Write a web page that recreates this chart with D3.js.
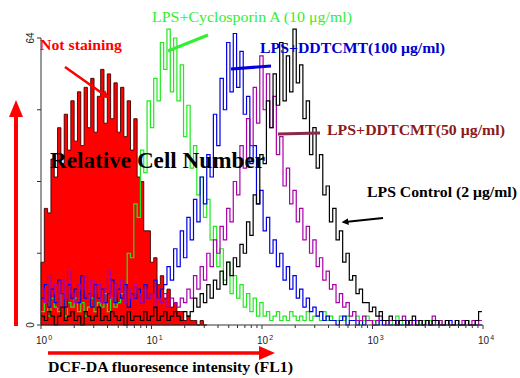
<!DOCTYPE html>
<html>
<head>
<meta charset="utf-8">
<script src="https://cdn.jsdelivr.net/npm/d3@7"></script>
<style>
  body { margin: 0; background: #fff; }
  svg { display: block; }
</style>
</head>
<body>
<div id="chart"></div>
<script>
// Each histogram channel is 0.03 decades wide, starting at 10^0
const binDecades = 0.03;

// Counts per channel
const notStaining = [14, 26, 25, 37, 33, 44, 36, 47, 39, 50, 41, 52, 40, 53, 44, 55, 43, 51, 57, 45,
  56, 46, 54, 43, 53, 42, 50, 39, 46, 33, 32, 21, 21, 14, 15, 9, 11, 6, 8, 4,
  5, 3, 3, 1, 2, 1, 1, 0, 1, 0];

const cyclosporin = [3, 5, 2, 6, 4, 3, 7, 2, 5, 4, 6, 3, 5, 2, 4, 6, 3, 5, 4, 7,
  3, 6, 4, 5, 7, 9, 16, 15, 27, 24, 39, 34, 50, 44, 55, 50, 63, 57, 66, 52,
  64, 50, 58, 42, 49, 35, 40, 29, 33, 24, 28, 19, 22, 13, 17, 10, 14, 7, 11, 6,
  9, 4, 7, 3, 6, 2, 5, 2, 3, 1, 2, 3, 1, 2, 1, 3, 2, 1, 2, 1,
  3, 1, 2, 2, 1, 3, 1, 2, 1, 1, 2, 1, 2, 1, 1, 2, 0, 1, 2, 1,
  1, 0, 2, 1, 1, 0, 1, 2, 0, 1, 1, 0, 1, 1, 0, 1, 0, 1, 0, 0,
  1, 0, 1, 0, 0, 1, 0, 0, 1, 0, 0, 0, 1];

const ddtcmt100 = [6, 9, 4, 8, 5, 10, 7, 4, 9, 6, 8, 5, 11, 6, 7, 4, 9, 6, 8, 5,
  7, 10, 5, 8, 6, 9, 4, 7, 6, 8, 5, 9, 6, 7, 10, 6, 8, 9, 13, 10,
  17, 13, 21, 15, 24, 19, 28, 23, 33, 27, 38, 33, 47, 40, 55, 48, 63, 52, 65, 53,
  61, 47, 51, 36, 40, 27, 30, 21, 24, 16, 19, 13, 16, 10, 13, 8, 11, 6, 8, 4,
  6, 3, 4, 2, 3, 1, 2, 1, 1, 0, 1, 2, 0, 1, 1, 0, 1, 0, 1, 1,
  0, 0, 1, 0, 1, 0, 0, 1, 0, 0, 1, 0, 1, 0, 0, 0, 1, 0, 0, 1,
  0, 0, 0, 1, 0, 0, 0, 0, 1, 0, 0, 0, 0];

const ddtcmt50 = [8, 5, 11, 7, 9, 4, 10, 6, 12, 7, 5, 9, 8, 11, 6, 10, 7, 9, 5, 8,
  12, 6, 9, 7, 10, 5, 8, 6, 9, 7, 5, 8, 6, 7, 4, 6, 5, 7, 4, 6,
  5, 4, 6, 5, 8, 6, 11, 8, 13, 10, 16, 13, 19, 16, 22, 19, 26, 23, 32, 29,
  40, 35, 46, 40, 53, 45, 60, 48, 56, 44, 51, 38, 42, 31, 35, 27, 30, 23, 26, 19,
  22, 16, 19, 13, 15, 10, 12, 8, 9, 5, 7, 4, 5, 2, 3, 1, 1, 2, 1, 1,
  0, 1, 2, 1, 0, 1, 1, 0, 1, 2, 0, 1, 0, 1, 1, 0, 1, 0, 2, 0,
  1, 0, 1, 0, 0, 1, 0, 1, 0, 0, 1, 0, 1];

const lpsControl = [2, 1, 3, 2, 0, 2, 4, 1, 2, 3, 1, 2, 0, 3, 2, 1, 2, 4, 1, 2,
  1, 3, 2, 1, 2, 0, 3, 1, 2, 2, 1, 3, 1, 2, 4, 1, 2, 3, 1, 2,
  3, 2, 1, 3, 2, 3, 6, 4, 7, 5, 9, 6, 10, 8, 12, 9, 14, 11, 15, 13,
  18, 16, 23, 20, 29, 27, 38, 36, 50, 44, 56, 49, 63, 50, 60, 52, 66, 54, 58, 46,
  50, 38, 44, 35, 38, 29, 31, 23, 26, 19, 21, 14, 16, 10, 11, 7, 8, 5, 5, 3,
  4, 2, 3, 1, 1, 2, 1, 0, 1, 1, 0, 1, 2, 0, 1, 0, 1, 0, 1, 1,
  0, 0, 1, 0, 0, 1, 0, 0, 1, 0, 0, 1, 3];

const xTickPowers = [0, 1, 2, 3, 4];
const yTickValues = [0, 16, 32, 48, 64];
const yTickLabels = { 0: '0', 64: '64' };

const serif = '"Liberation Serif", "Times New Roman", serif';

const svg = d3.select('#chart')
  .append('svg')
  .attr('width', 520)
  .attr('height', 378);

const x = d3.scaleLog().domain([1, 1e4]).range([41, 483]);
const y = d3.scaleLinear().domain([0, 64]).range([325, 38]);

// channel counts -> step points (plus the closing edge)
function toPoints(values) {
  const pts = values.map((c, i) => ({ v: Math.pow(10, i * binDecades), c }));
  pts.push({ v: Math.pow(10, values.length * binDecades), c: values[values.length - 1] });
  return pts;
}

const line = d3.line()
  .curve(d3.curveStepAfter)
  .x(d => x(d.v))
  .y(d => y(d.c));

const area = d3.area()
  .curve(d3.curveStepAfter)
  .x(d => x(d.v))
  .y0(y(0))
  .y1(d => y(d.c));

// Filled unstained histogram
svg.append('path')
  .attr('d', area(toPoints(notStaining)))
  .attr('fill', '#ff0000')
  .attr('stroke', '#3a0000')
  .attr('stroke-width', 0.9);

// Line histograms
const series = [
  { values: cyclosporin, color: '#22e822' },
  { values: ddtcmt100, color: '#0000e0' },
  { values: ddtcmt50, color: '#a800a8' },
  { values: lpsControl, color: '#000000' }
];
series.forEach(s => {
  svg.append('path')
    .attr('d', line(toPoints(s.values)))
    .attr('fill', 'none')
    .attr('stroke', s.color)
    .attr('stroke-width', 1.2);
});

// Axes
const axisColor = '#333';
const xAxis = svg.append('g');
xAxis.append('line')
  .attr('x1', x(1)).attr('x2', x(1e4))
  .attr('y1', y(0)).attr('y2', y(0))
  .attr('stroke', axisColor);

const minorTicks = [];
for (let p = 0; p < 4; p++) {
  for (let m = 2; m < 10; m++) minorTicks.push(m * Math.pow(10, p));
}
xAxis.selectAll('.minor')
  .data(minorTicks)
  .enter()
  .append('line')
  .attr('x1', d => x(d)).attr('x2', d => x(d))
  .attr('y1', y(0)).attr('y2', y(0) + 3)
  .attr('stroke', axisColor);

xAxis.selectAll('.major')
  .data(xTickPowers)
  .enter()
  .append('line')
  .attr('x1', d => x(Math.pow(10, d))).attr('x2', d => x(Math.pow(10, d)))
  .attr('y1', y(0)).attr('y2', y(0) + 4)
  .attr('stroke', axisColor);

const xLabels = xAxis.selectAll('.xlab')
  .data(xTickPowers)
  .enter()
  .append('text')
  .attr('x', d => x(Math.pow(10, d)) - 5)
  .attr('y', 344)
  .attr('font-family', '"Liberation Sans", Arial, sans-serif')
  .attr('font-size', 10)
  .attr('fill', '#222');
xLabels.append('tspan').text('10');
xLabels.append('tspan')
  .attr('dy', -4)
  .attr('dx', 1)
  .attr('font-size', 7)
  .text(d => d);

const yAxis = svg.append('g');
yAxis.append('line')
  .attr('x1', x(1)).attr('x2', x(1))
  .attr('y1', y(0)).attr('y2', y(64))
  .attr('stroke', axisColor);
yAxis.selectAll('.ytick')
  .data(yTickValues)
  .enter()
  .append('line')
  .attr('x1', x(1) - 4).attr('x2', x(1))
  .attr('y1', d => y(d)).attr('y2', d => y(d))
  .attr('stroke', axisColor);
yAxis.selectAll('.ylab')
  .data(yTickValues.filter(d => yTickLabels[d]))
  .enter()
  .append('text')
  .attr('transform', d => `translate(34, ${y(d)}) rotate(-90)`)
  .attr('text-anchor', 'middle')
  .attr('font-family', '"Liberation Sans", Arial, sans-serif')
  .attr('font-size', 10)
  .attr('fill', '#222')
  .text(d => yTickLabels[d]);

// Arrowheads
const defs = svg.append('defs');
function marker(id, color) {
  defs.append('marker')
    .attr('id', id)
    .attr('viewBox', '0 0 10 10')
    .attr('refX', 5).attr('refY', 5)
    .attr('markerWidth', 3.5).attr('markerHeight', 3.5)
    .attr('orient', 'auto')
    .append('path')
    .attr('d', 'M0,0 L10,5 L0,10 Z')
    .attr('fill', color);
}
marker('head-red', '#ff0000');
marker('head-black', '#000');

function arrow(x1, y1, x2, y2, color, w, head) {
  const l = svg.append('line')
    .attr('x1', x1).attr('y1', y1)
    .attr('x2', x2).attr('y2', y2)
    .attr('stroke', color)
    .attr('stroke-width', w);
  if (head) l.attr('marker-end', `url(#${head})`);
}

// Big axis arrows
arrow(16, 326, 16, 114, '#ff0000', 4);
svg.append('path').attr('d', 'M16,100 L9,117 L23,117 Z').attr('fill', '#ff0000');
arrow(48, 353, 262, 353, '#ff0000', 3.5);
svg.append('path').attr('d', 'M275,353 L259,346 L259,360 Z').attr('fill', '#ff0000');

// Pointer lines
arrow(65, 67, 106, 96, '#ff0000', 2.5, 'head-red');
arrow(208, 35, 168, 51, '#33ee33', 3);
arrow(271, 66, 231, 69, '#0000dd', 3);
arrow(320, 133, 278, 134, '#8b2a48', 3);
arrow(383, 218, 345, 222, '#000', 2, 'head-black');

// Labels
function label(txt, lx, ly, size, weight, color, len) {
  svg.append('text')
    .attr('x', lx).attr('y', ly)
    .attr('font-family', serif)
    .attr('font-size', size)
    .attr('font-weight', weight)
    .attr('fill', color)
    .attr('textLength', len)
    .attr('lengthAdjust', 'spacingAndGlyphs')
    .text(txt);
}
label('Not staining', 40, 50, 15, 'bold', '#ff0000', 82);
label('LPS+Cyclosporin A (10 μg/ml)', 152, 22, 15, 'normal', '#33ee33', 200);
label('LPS+DDTCMT(100 μg/ml)', 260, 53, 15, 'bold', '#0000cc', 185);
label('LPS+DDTCMT(50 μg/ml)', 327, 135, 15, 'bold', '#8b1a1a', 178);
label('LPS Control (2 μg/ml)', 367, 197, 15, 'bold', '#000', 150);
label('Relative Cell Number', 50, 168, 23, 'bold', '#000', 215);
label('DCF-DA fluoresence intensity (FL1)', 48, 372, 15, 'bold', '#000', 245);
</script>
</body>
</html>
